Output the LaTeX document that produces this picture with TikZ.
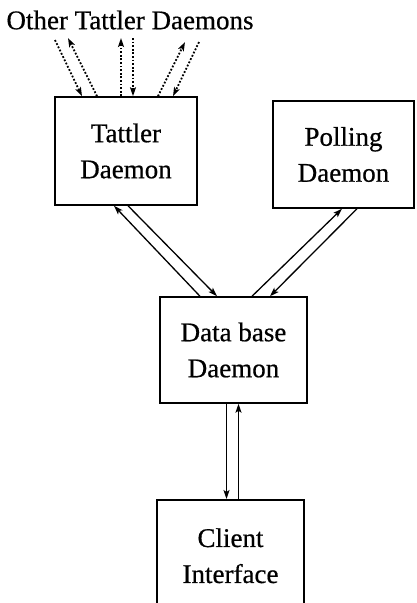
\documentclass[tikz,border=0pt]{standalone}
\usepackage{fontspec}
\setmainfont{Liberation Serif}
\newfontfamily\scanfont[FakeBold=0.6]{Liberation Serif}
\usetikzlibrary{arrows.meta}

\begin{document}
\begin{tikzpicture}[
    x=1pt, y=-1pt,
    daemon/.style={draw, line width=1.5pt, inner sep=0pt, align=center,
      font=\scanfont\fontsize{27}{36}\selectfont},
    link/.style={line width=1.3pt, -{Stealth[length=9pt,width=6pt,inset=2pt]}},
    other/.style={link, dotted, line width=1.8pt, dash pattern=on 1.8pt off 1.8pt}
  ]
  \clip (0,0) rectangle (416,603);
  \node[font=\scanfont\fontsize{27}{36}\selectfont] (others) at (130,20) {Other Tattler Daemons};
  \node[daemon, minimum width=142pt, minimum height=108pt] (td) at (126,151) {Tattler\\Daemon};
  \node[daemon, minimum width=141pt, minimum height=107pt] (pd) at (343.5,154.5) {Polling\\Daemon};
  \node[daemon, minimum width=147pt, minimum height=106pt] (db) at (233.5,350) {Data base\\Daemon};
  \node[daemon, minimum width=147pt, minimum height=112pt, anchor=north] (ci) at (230.5,499) {Client\\Interface};

  \coordinate (o1) at (55,40);
  \coordinate (o2) at (68,38);
  \coordinate (o3) at (121,38);
  \coordinate (o4) at (133,38);
  \coordinate (o5) at (185,42);
  \coordinate (o6) at (199,42);
  \draw[other] (o1) -- ([xshift=-44pt]td.north);
  \draw[other] ([xshift=-29pt]td.north) -- (o2);
  \draw[other] ([xshift=-5pt]td.north) -- (o3);
  \draw[other] (o4) -- ([xshift=7pt]td.north);
  \draw[other] ([xshift=32pt]td.north) -- (o5);
  \draw[other] (o6) -- ([xshift=47pt]td.north);

  \draw[link] ([xshift=-33.5pt]db.north) -- ([xshift=-12pt]td.south);
  \draw[link] ([xshift=2pt]td.south) -- ([xshift=-16.5pt]db.north);
  \draw[link] ([xshift=18.5pt]db.north) -- ([xshift=-1.5pt]pd.south);
  \draw[link] ([xshift=13.5pt]pd.south) -- ([xshift=36.5pt]db.north);
  \draw[link] ([xshift=-7pt]db.south) -- ([xshift=-4pt]ci.north);
  \draw[link] ([xshift=8pt]ci.north) -- ([xshift=5pt]db.south);
\end{tikzpicture}
\end{document}
